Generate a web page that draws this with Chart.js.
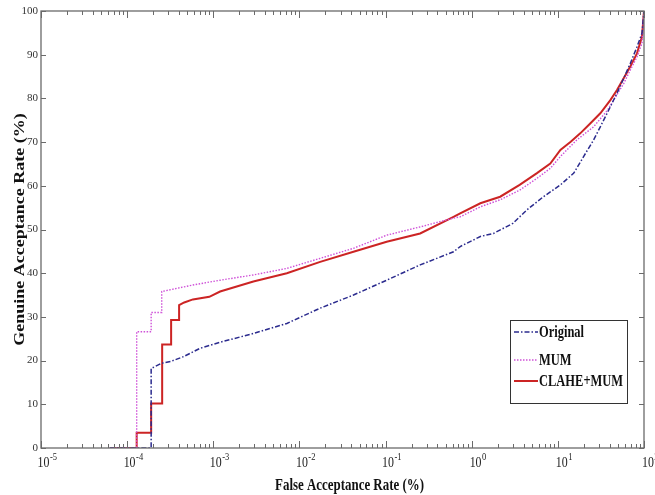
<!DOCTYPE html>
<html lang="en">
<head>
<meta charset="UTF-8">
<title>FAR vs GAR</title>
<script src="https://cdn.jsdelivr.net/npm/chart.js"></script>
<style>
  html, body { margin: 0; padding: 0; background: #fff; }
  #wrap { width: 655px; height: 495px; }
</style>
</head>
<body>
<div id="wrap"><canvas id="rocChart" width="655" height="495"></canvas></div>

<script>
// axis ticks: powers of ten on x, plain steps on y
var xExponents = [-5, -4, -3, -2, -1, 0, 1, 2];
var yTicks = [0, 10, 20, 30, 40, 50, 60, 70, 80, 90, 100];
var xTitle = 'False Acceptance Rate (%)';
var yTitle = 'Genuine Acceptance Rate (%)';

// Original
var farOriginal = [6.3e-5, 1.9e-4, 1.9e-4, 2.52e-4, 3.2e-4, 4.5e-4, 7.0e-4, 1.2e-3, 2.92e-3, 7.14e-3,
  1.74e-2, 4.24e-2, 0.103, 0.252, 0.615, 0.735, 1.26, 1.79, 3.0, 4.38, 6.8, 10.7, 15.3, 19.9, 26.0,
  31.1, 40.7, 48.6, 58.1, 69.3, 82.9, 94.8, 100];
var garOriginal = [0, 0, 18.2, 19.4, 19.8, 20.9, 22.8, 24.2, 26.2, 28.5,
  32.0, 35.0, 38.4, 41.9, 44.9, 46.1, 48.4, 49.1, 51.4, 54.5, 57.5, 60.2, 62.9, 66.7, 70.5,
  73.5, 78.1, 81.2, 84.6, 88.0, 91.8, 94.9, 100];

// MUM
var farMum = [6.3e-5, 1.29e-4, 1.29e-4, 1.9e-4, 1.9e-4, 2.52e-4, 2.52e-4, 3.5e-4, 5.8e-4, 1.2e-3,
  2.92e-3, 7.14e-3, 1.74e-2, 4.24e-2, 0.103, 0.252, 0.615, 0.735, 1.26, 2.14, 3.6, 5.72, 8.17, 10.7,
  16.6, 26.0, 37.7, 44.4, 58.1, 69.3, 82.9, 94.8, 100];
var garMum = [0, 0, 26.6, 26.6, 31.0, 31.0, 35.8, 36.4, 37.3, 38.4,
  39.6, 41.1, 43.4, 45.7, 48.7, 50.6, 52.6, 52.9, 55.2, 56.8, 59.0, 61.7, 64.0, 66.7,
  70.5, 73.5, 77.3, 79.6, 83.4, 86.5, 89.5, 92.6, 100];

// CLAHE+MUM
var farClaheMum = [6.3e-5, 1.29e-4, 1.29e-4, 1.9e-4, 1.9e-4, 2.55e-4, 2.55e-4, 3.24e-4, 3.24e-4, 4.01e-4,
  4.01e-4, 4.6e-4, 5.8e-4, 9.0e-4, 1.2e-3, 2.92e-3, 7.14e-3, 1.74e-2, 4.24e-2, 0.103, 0.252, 0.615,
  0.735, 1.26, 2.14, 3.6, 5.72, 8.17, 10.7, 14.1, 18.2, 23.9, 31.1, 40.7, 48.6, 58.1, 69.3, 82.9, 94.8, 100];
var garClaheMum = [0, 0, 3.5, 3.5, 10.2, 10.2, 23.7, 23.7, 29.3, 29.3,
  32.7, 33.3, 34.0, 34.6, 35.8, 38.1, 40.0, 42.6, 44.9, 47.2, 49.1, 52.9,
  53.7, 56.0, 57.5, 60.2, 62.9, 65.1, 68.2, 70.1, 72.0, 74.3, 76.6, 79.6, 81.9, 84.6, 87.3, 90.3, 94.1, 100];

var SERIF = '"Liberation Serif", "Times New Roman", serif';

function toPoints(xs, ys) {
  return xs.map(function(x, i) { return { x: x, y: ys[i] }; });
}

// draw text squeezed horizontally
function squeezed(ctx, text, x, y, sx) {
  ctx.save();
  ctx.translate(x, y);
  ctx.scale(sx, 1);
  ctx.fillText(text, 0, 0);
  ctx.restore();
}

// box, inward ticks, tick labels, titles and the legend
var framePlugin = {
  id: 'frame',
  afterDatasetsDraw: function(chart) {
    var ctx = chart.ctx, ca = chart.chartArea;
    var xs = chart.scales.x, ys = chart.scales.y;
    ctx.save();

    ctx.strokeStyle = '#6a6a6a';
    ctx.lineWidth = 1.3;
    ctx.strokeRect(ca.left, ca.top, ca.right - ca.left, ca.bottom - ca.top);

    ctx.lineWidth = 1;
    ctx.beginPath();
    function xTick(v, len) {
      var px = Math.round(xs.getPixelForValue(v)) + 0.5;
      ctx.moveTo(px, ca.bottom); ctx.lineTo(px, ca.bottom - len);
      ctx.moveTo(px, ca.top); ctx.lineTo(px, ca.top + len);
    }
    xExponents.forEach(function(e, i) {
      var base = Math.pow(10, e);
      xTick(base, 7);
      if (i < xExponents.length - 1) {
        for (var m = 2; m <= 9; m++) xTick(m * base, 4);
      }
    });
    yTicks.forEach(function(v) {
      var py = Math.round(ys.getPixelForValue(v)) + 0.5;
      ctx.moveTo(ca.left, py); ctx.lineTo(ca.left + 5, py);
      ctx.moveTo(ca.right, py); ctx.lineTo(ca.right - 5, py);
    });
    ctx.stroke();

    // x tick labels as 10 with a raised exponent
    ctx.fillStyle = '#222';
    ctx.textAlign = 'left';
    ctx.textBaseline = 'middle';
    xExponents.forEach(function(e) {
      var cx = xs.getPixelForValue(Math.pow(10, e)) + 6;
      var sup = String(e);
      ctx.font = '14px ' + SERIF;
      var wb = ctx.measureText('10').width * 0.85;
      ctx.font = '10px ' + SERIF;
      var ws = ctx.measureText(sup).width * 0.85;
      var x0 = cx - (wb + ws) / 2;
      ctx.font = '14px ' + SERIF;
      squeezed(ctx, '10', x0, ca.bottom + 15, 0.85);
      ctx.font = '10px ' + SERIF;
      squeezed(ctx, sup, x0 + wb + 0.5, ca.bottom + 9, 0.85);
    });

    // axis titles
    ctx.fillStyle = '#111';
    ctx.font = 'bold 17px ' + SERIF;
    ctx.textAlign = 'center';
    ctx.save();
    ctx.translate((ca.left + ca.right) / 2 + 7, ca.bottom + 38);
    ctx.scale(0.76, 1);
    ctx.fillText(xTitle, 0, 0);
    ctx.restore();

    ctx.save();
    ctx.translate(20, (ca.top + ca.bottom) / 2);
    ctx.rotate(-Math.PI / 2);
    ctx.scale(1, 0.78);
    ctx.font = 'bold 18px ' + SERIF;
    ctx.fillText(yTitle, 0, 0);
    ctx.restore();

    // legend box, lower right inside the axes
    var bx = ca.right - 134, by = ca.bottom - 128, bw = 117, bh = 83;
    var rowY = [12, 40, 61];
    ctx.fillStyle = '#fff';
    ctx.fillRect(bx, by, bw, bh);
    ctx.strokeStyle = '#333';
    ctx.lineWidth = 1;
    ctx.strokeRect(bx + 0.5, by + 0.5, bw, bh);
    chart.data.datasets.forEach(function(ds, i) {
      var ly = by + rowY[i];
      ctx.save();
      ctx.strokeStyle = ds.borderColor;
      ctx.lineWidth = ds.borderWidth;
      ctx.setLineDash(ds.borderDash || []);
      ctx.beginPath();
      ctx.moveTo(bx + 4, ly); ctx.lineTo(bx + 28, ly);
      ctx.stroke();
      ctx.restore();
      ctx.fillStyle = '#111';
      ctx.font = 'bold 16px ' + SERIF;
      ctx.textAlign = 'left';
      ctx.textBaseline = 'middle';
      squeezed(ctx, ds.label, bx + 29, ly + 1, 0.78);
    });

    ctx.restore();
  }
};

new Chart(document.getElementById('rocChart'), {
  type: 'line',
  data: {
    datasets: [{
      label: 'Original',
      data: toPoints(farOriginal, garOriginal),
      borderColor: '#2b2b8e',
      borderWidth: 1.5,
      borderDash: [5, 2, 1.5, 2]
    }, {
      label: 'MUM',
      data: toPoints(farMum, garMum),
      borderColor: '#cf52d8',
      borderWidth: 1.4,
      borderDash: [1.5, 1.5]
    }, {
      label: 'CLAHE+MUM',
      data: toPoints(farClaheMum, garClaheMum),
      borderColor: '#cc2424',
      borderWidth: 2
    }]
  },
  options: {
    responsive: false,
    animation: false,
    layout: { padding: { top: 11, right: 11, left: 0, bottom: 0 } },
    elements: { point: { radius: 0 }, line: { tension: 0 } },
    plugins: { legend: { display: false }, tooltip: { enabled: false } },
    scales: {
      x: {
        type: 'logarithmic',
        min: 1e-5,
        max: 100,
        grid: { display: false, drawTicks: false },
        border: { display: false },
        ticks: { display: false },
        afterFit: function(s) { s.height = 47; }
      },
      y: {
        min: 0,
        max: 100,
        grid: { display: false, drawTicks: false },
        border: { display: false },
        ticks: { font: { family: SERIF, size: 11 }, color: '#333', padding: 3 },
        afterBuildTicks: function(s) { s.ticks = yTicks.map(function(v) { return { value: v }; }); },
        afterFit: function(s) { s.width = 41; }
      }
    }
  },
  plugins: [framePlugin]
});
</script>
</body>
</html>
